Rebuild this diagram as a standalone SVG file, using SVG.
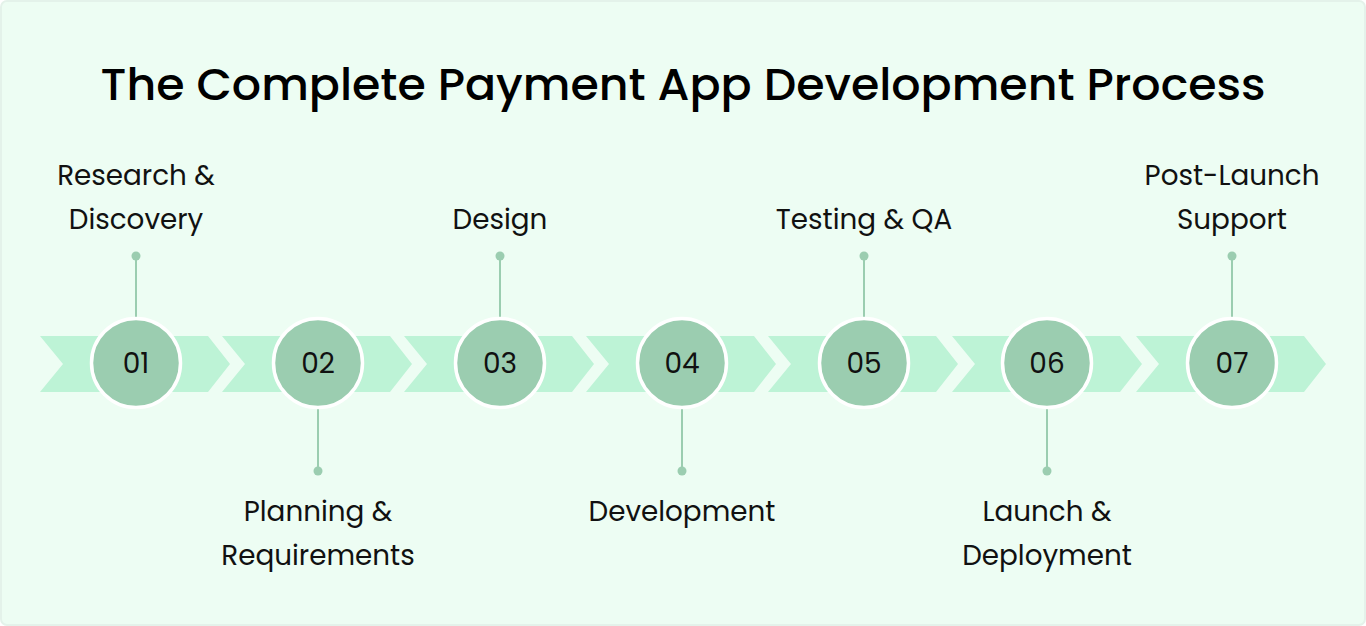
<svg xmlns="http://www.w3.org/2000/svg" width="1366" height="626" viewBox="0 0 1366 626">
<defs>
<style>
.bg{fill:#edfdf3;stroke:#e4f2ea;stroke-width:2}
.chev{fill:#bdf3d6}
.circ{fill:#9bcdb0;stroke:#ffffff;stroke-width:3.5}
.num{font-family:Poppins,"Inter","Noto Sans",sans-serif;font-size:28px;fill:#111;text-anchor:middle}
.lbl{font-family:Poppins,"Inter","Noto Sans",sans-serif;font-size:27.8px;fill:#111;text-anchor:middle}
.title{font-family:Poppins,"Inter","Noto Sans",sans-serif;font-size:45px;font-weight:500;fill:#000;text-anchor:middle}
.ln{stroke:#9bcdb0;stroke-width:2;fill:none}
.dot{fill:#9bcdb0}
</style>
<path id="chevron" class="chev" d="M0,0 L168,0 L190,28 L168,56 L0,56 L23,28 Z"/>
</defs>
<rect class="bg" x="1" y="1" width="1364" height="624" rx="6"/>
<text class="title" x="683" y="100" textLength="1165" lengthAdjust="spacingAndGlyphs">The Complete Payment App Development Process</text>
<g id="chevrons">
<use href="#chevron" x="40" y="336"/>
<use href="#chevron" x="222" y="336"/>
<use href="#chevron" x="404" y="336"/>
<use href="#chevron" x="586" y="336"/>
<use href="#chevron" x="768" y="336"/>
<use href="#chevron" x="952" y="336"/>
<use href="#chevron" x="1136" y="336"/>
</g>
<g id="connectors">
<line class="ln" x1="136" y1="256" x2="136" y2="318"/><circle class="dot" cx="136" cy="256" r="4.5"/>
<line class="ln" x1="318" y1="408" x2="318" y2="471"/><circle class="dot" cx="318" cy="471" r="4.5"/>
<line class="ln" x1="500" y1="256" x2="500" y2="318"/><circle class="dot" cx="500" cy="256" r="4.5"/>
<line class="ln" x1="682" y1="408" x2="682" y2="471"/><circle class="dot" cx="682" cy="471" r="4.5"/>
<line class="ln" x1="864" y1="256" x2="864" y2="318"/><circle class="dot" cx="864" cy="256" r="4.5"/>
<line class="ln" x1="1047" y1="408" x2="1047" y2="471"/><circle class="dot" cx="1047" cy="471" r="4.5"/>
<line class="ln" x1="1232" y1="256" x2="1232" y2="318"/><circle class="dot" cx="1232" cy="256" r="4.5"/>
</g>
<g id="node01"><circle class="circ" cx="136" cy="363" r="44.5"/><text class="num" x="136" y="373">01</text>
<text class="lbl" x="136" y="185">Research &amp;</text><text class="lbl" x="136" y="229">Discovery</text></g>
<g id="node02"><circle class="circ" cx="318" cy="363" r="44.5"/><text class="num" x="318" y="373">02</text>
<text class="lbl" x="318" y="521">Planning &amp;</text><text class="lbl" x="318" y="565">Requirements</text></g>
<g id="node03"><circle class="circ" cx="500" cy="363" r="44.5"/><text class="num" x="500" y="373">03</text>
<text class="lbl" x="500" y="229">Design</text></g>
<g id="node04"><circle class="circ" cx="682" cy="363" r="44.5"/><text class="num" x="682" y="373">04</text>
<text class="lbl" x="682" y="521">Development</text></g>
<g id="node05"><circle class="circ" cx="864" cy="363" r="44.5"/><text class="num" x="864" y="373">05</text>
<text class="lbl" x="864" y="229">Testing &amp; QA</text></g>
<g id="node06"><circle class="circ" cx="1047" cy="363" r="44.5"/><text class="num" x="1047" y="373">06</text>
<text class="lbl" x="1047" y="521">Launch &amp;</text><text class="lbl" x="1047" y="565">Deployment</text></g>
<g id="node07"><circle class="circ" cx="1232" cy="363" r="44.5"/><text class="num" x="1232" y="373">07</text>
<text class="lbl" x="1232" y="185">Post-Launch</text><text class="lbl" x="1232" y="229">Support</text></g>
</svg>
